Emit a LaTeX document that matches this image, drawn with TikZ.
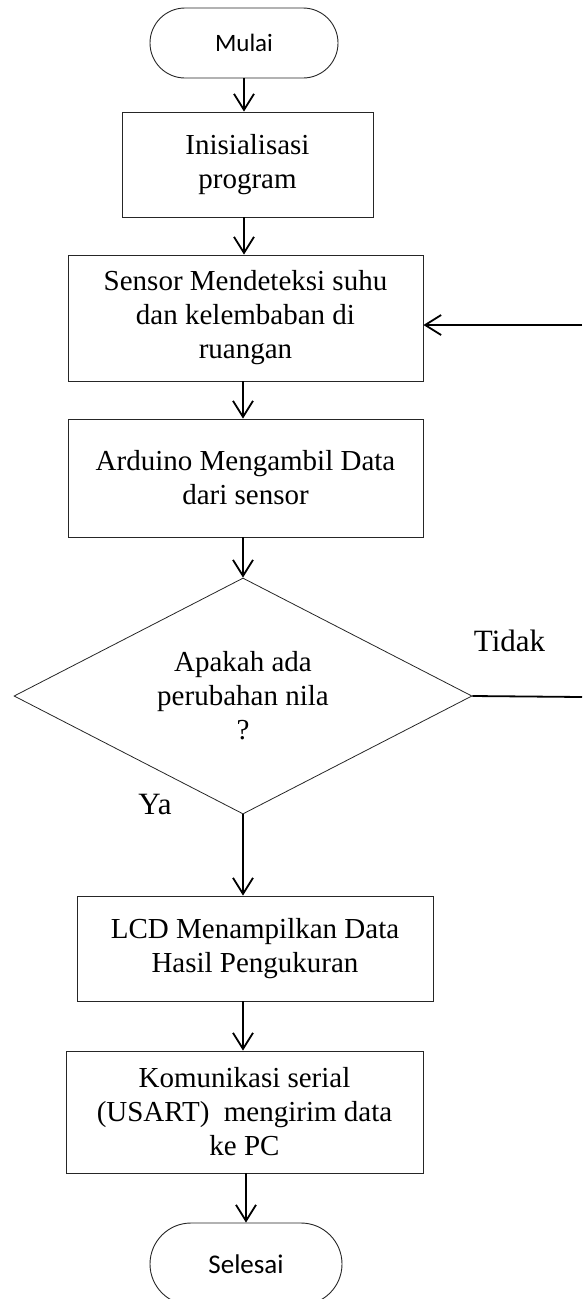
\documentclass[tikz,border=0pt]{standalone}
\usepackage{fontspec}
\setmainfont{Liberation Serif}
\newfontfamily\termfont{Carlito}
\usetikzlibrary{shapes.geometric,shapes.misc,arrows.meta}
\tikzset{
	prosesbox/.style={draw=black!85, line width=0.9pt, rectangle, align=center, inner sep=0pt, font=\fontsize{29}{34}\selectfont},
	terminal/.style={draw=black!85, line width=0.9pt, rounded rectangle, inner sep=0pt, minimum height=70pt},
	keputusan/.style={draw=black!85, line width=0.8pt, diamond, aspect=1.94, inner sep=0pt, align=center, font=\fontsize{29}{34}\selectfont},
	panah/.style={line width=1.8pt, -{Straight Barb[length=16pt,width=20pt,line width=1.8pt]}},
	garis/.style={line width=1.8pt},
	cabang/.style={anchor=base, font=\fontsize{31}{36}\selectfont}
}

\begin{document}
\begin{tikzpicture}[x=1pt,y=-1pt]
				\useasboundingbox (0,0) rectangle (582,1299);
				\clip (0,0) rectangle (582,1299);
				
				\node[terminal, minimum width=188pt, font=\termfont\fontsize{25}{30}\selectfont] (mulai) at (244,43) {Mulai};
				\node[prosesbox, minimum width=251pt, minimum height=105pt] (init) at (247.5,164.5) {Inisialisasi\\program};
				\node[prosesbox, minimum width=355pt, minimum height=126pt] (sensor) at (245.5,318) {Sensor Mendeteksi suhu\\dan kelembaban di\\ruangan};
				\node[prosesbox, minimum width=355pt, minimum height=118pt] (arduino) at (245.5,478) {Arduino Mengambil Data\\dari sensor};
				\node[keputusan, minimum width=458pt, minimum height=236pt] (cek) at (243,696) {Apakah ada\\perubahan nila\\?};
				\node[prosesbox, minimum width=356pt, minimum height=105pt] (lcd) at (255,948.5) {LCD Menampilkan Data\\Hasil Pengukuran};
				\node[prosesbox, minimum width=357pt, minimum height=122pt] (serial) at (244.5,1112) {Komunikasi serial\\(USART)~~mengirim data\\ke PC};
				\node[terminal, minimum width=192pt, minimum height=82pt, font=\termfont\fontsize{27}{32}\selectfont] (selesai) at (246,1264) {Selesai};
				
				\node[cabang] (tidak) at (509.5,651) {Tidak};
				\node[cabang] (ya) at (155,814) {Ya};
				
				\coordinate (kanan1) at (582,697);
				\coordinate (kanan2) at (582,325);
				
				\draw[panah] (mulai.south) -- (mulai.south |- init.north);
				\draw[panah] (mulai.south |- init.south) -- (mulai.south |- sensor.north);
				\draw[panah] (cek.north |- sensor.south) -- (cek.north |- arduino.north);
				\draw[panah] (cek.north |- arduino.south) -- (cek.north);
				\draw[panah] (cek.south) -- (cek.south |- lcd.north);
				\draw[panah] (cek.south |- lcd.south) -- (cek.south |- serial.north);
				\draw[panah] (selesai.north |- serial.south) -- (selesai.north);
				
				% cabang tidak kembali ke sensor
				\draw[garis] (cek.east) -- (kanan1);
				\draw[panah] (kanan2) -- (kanan2 -| sensor.east);
			\end{tikzpicture}
\end{document}
